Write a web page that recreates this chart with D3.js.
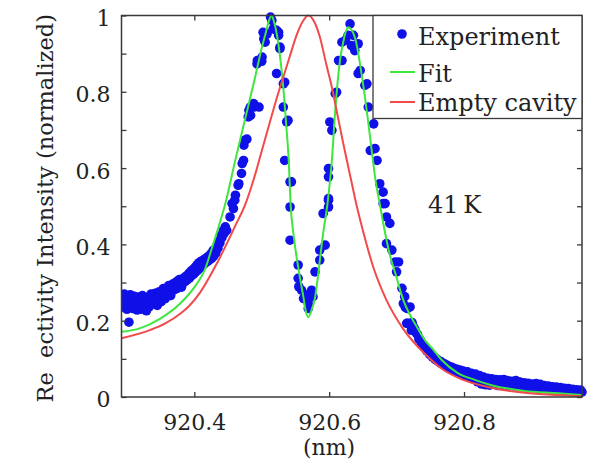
<!DOCTYPE html>
<html>
<head>
<meta charset="utf-8">
<script src="https://cdn.jsdelivr.net/npm/d3@7"></script>
<style>
  html, body { margin: 0; padding: 0; background: #fff; }
  svg { display: block; }
</style>
</head>
<body>
<svg id="chart" width="603" height="467"></svg>
<script>
// Reflectivity spectrum at 41 K: measured points, coupled-mode fit, bare cavity line
const waveTicks = [920.4, 920.6, 920.8];
const intensityTicks = [0, 0.2, 0.4, 0.6, 0.8, 1];
const intensityMinorTicks = [0.1, 0.3, 0.5, 0.7, 0.9];
const legendLabels = ["Experiment", "Fit", "Empty cavity"];
const temperatureLabel = "41\u2009K";

// measured reflectivity [wavelength nm, normalized intensity]
const experiment = [
  [920.293,0.258],[920.294,0.236],[920.296,0.270],[920.297,0.245],[920.299,0.262],[920.300,0.230],
  [920.302,0.252],[920.303,0.196],[920.305,0.268],[920.306,0.240],[920.308,0.256],[920.309,0.232],
  [920.311,0.264],[920.312,0.246],[920.314,0.252],[920.315,0.228],[920.317,0.262],[920.318,0.240],
  [920.320,0.256],[920.321,0.230],[920.323,0.266],[920.324,0.246],[920.326,0.236],[920.327,0.258],
  [920.329,0.226],[920.330,0.250],[920.332,0.262],[920.333,0.236],[920.335,0.254],[920.336,0.270],
  [920.338,0.244],[920.339,0.262],[920.341,0.250],[920.342,0.272],[920.344,0.256],[920.345,0.240],
  [920.347,0.266],[920.348,0.276],[920.350,0.260],[920.351,0.250],[920.353,0.272],[920.354,0.284],
  [920.356,0.266],[920.357,0.258],[920.359,0.282],[920.360,0.270],[920.362,0.292],[920.363,0.276],
  [920.365,0.266],[920.366,0.286],[920.368,0.296],[920.369,0.280],[920.371,0.290],[920.372,0.300],
  [920.374,0.284],[920.375,0.304],[920.377,0.292],[920.378,0.308],[920.380,0.296],[920.381,0.288],
  [920.383,0.310],[920.384,0.300],[920.386,0.314],[920.387,0.304],[920.389,0.318],[920.390,0.308],
  [920.392,0.324],[920.393,0.312],[920.395,0.330],[920.396,0.318],[920.398,0.334],[920.399,0.322],
  [920.401,0.340],[920.402,0.328],[920.404,0.346],[920.405,0.332],[920.407,0.352],[920.408,0.338],
  [920.410,0.356],[920.411,0.342],[920.413,0.358],[920.414,0.348],[920.416,0.362],[920.417,0.352],
  [920.419,0.366],[920.420,0.356],[920.422,0.370],[920.423,0.360],[920.425,0.376],[920.426,0.364],
  [920.428,0.384],[920.429,0.370],[920.431,0.388],[920.432,0.378],[920.434,0.398],[920.435,0.390],
  [920.437,0.410],[920.438,0.404],[920.440,0.424],[920.441,0.418],[920.443,0.436],[920.444,0.428],
  [920.446,0.446],[920.448,0.437],
  [920.453,0.472],[920.456,0.507],[920.458,0.494],[920.460,0.516],[920.461,0.529],[920.465,0.555],
  [920.466,0.559],[920.470,0.586],[920.471,0.612],[920.473,0.620],[920.4735,0.660],[920.475,0.673],
  [920.478,0.676],[920.480,0.734],[920.481,0.751],[920.483,0.760],[920.4835,0.738],[920.488,0.769],
  [920.4885,0.760],[920.493,0.873],[920.4935,0.882],[920.496,0.760],[920.500,0.880],[920.5005,0.891],
  [920.502,0.956],[920.503,0.939],[920.505,0.930],[920.508,0.952],[920.513,0.996],[920.515,0.987],
  [920.517,0.965],[920.522,0.961],[920.522,0.848],[920.525,0.956],[920.525,0.948],[920.527,0.913],
  [920.527,0.917],[920.532,0.821],[920.532,0.760],[920.534,0.825],[920.534,0.620],[920.537,0.721],
  [920.539,0.725],[920.542,0.564],[920.542,0.498],[920.544,0.564],[920.542,0.411],[920.554,0.346],
  [920.554,0.311],[920.555,0.289],[920.559,0.280],[920.562,0.258],[920.565,0.268],[920.569,0.245],
  [920.569,0.232],[920.574,0.280],[920.576,0.263],[920.579,0.328],[920.586,0.359],[920.586,0.385],
  [920.591,0.481],[920.594,0.398],[920.599,0.516],[920.599,0.498],[920.599,0.520],[920.599,0.577],
  [920.599,0.599],[920.601,0.721],[920.604,0.699],[920.609,0.795],[920.611,0.799],[920.614,0.882],
  [920.619,0.882],[920.619,0.930],[920.624,0.935],[920.628,0.948],[920.631,0.978],[920.633,0.921],
  [920.636,0.948],[920.638,0.908],[920.643,0.926],[920.643,0.848],[920.646,0.856],[920.653,0.817],
  [920.656,0.821],[920.658,0.760],[920.661,0.646],[920.666,0.716],[920.668,0.651],[920.671,0.620],
  [920.675,0.559],[920.680,0.537],[920.680,0.507],[920.683,0.507],[920.685,0.472],[920.685,0.402],
  [920.690,0.455],[920.693,0.385],[920.698,0.354],[920.700,0.328],[920.703,0.354],[920.708,0.285],
  [920.710,0.245],[920.712,0.263],[920.713,0.235],[920.715,0.193],[920.716,0.232],[920.717,0.193],
  [920.720,0.236],[920.722,0.175],
  [920.723,0.195],[920.725,0.184],[920.727,0.178],[920.729,0.168],[920.731,0.164],[920.733,0.152],
  [920.735,0.150],[920.737,0.141],[920.739,0.137],[920.741,0.130],[920.743,0.128],[920.745,0.120],
  [920.747,0.119],[920.749,0.112],[920.751,0.112],[920.753,0.105],[920.755,0.105],[920.757,0.099],
  [920.759,0.100],[920.761,0.094],[920.763,0.095],[920.765,0.089],[920.767,0.091],[920.769,0.085],
  [920.771,0.087],[920.773,0.081],[920.775,0.083],[920.777,0.077],[920.779,0.080],[920.781,0.073],
  [920.783,0.077],[920.785,0.070],[920.787,0.074],[920.789,0.067],[920.791,0.072],[920.793,0.064],
  [920.795,0.070],[920.797,0.061],[920.799,0.068],[920.802,0.057],[920.805,0.066],[920.808,0.052],
  [920.811,0.062],[920.814,0.047],[920.817,0.060],[920.820,0.040],[920.823,0.056],[920.826,0.034],
  [920.829,0.052],[920.832,0.032],[920.835,0.049],[920.838,0.031],[920.841,0.048],[920.844,0.033],
  [920.847,0.046],[920.850,0.030],[920.853,0.045],[920.856,0.031],[920.859,0.046],[920.862,0.029],
  [920.865,0.043],[920.868,0.031],[920.871,0.041],[920.874,0.029],[920.877,0.043],[920.880,0.028],
  [920.883,0.039],[920.886,0.027],[920.889,0.037],[920.892,0.026],[920.895,0.036],[920.898,0.025],
  [920.901,0.034],[920.904,0.025],[920.907,0.035],[920.910,0.024],[920.913,0.033],[920.916,0.023],
  [920.919,0.030],[920.922,0.022],[920.925,0.029],[920.928,0.021],[920.931,0.027],[920.934,0.020],
  [920.937,0.026],[920.940,0.019],[920.943,0.025],[920.946,0.018],[920.949,0.023],[920.952,0.016],
  [920.955,0.022],[920.958,0.014],[920.961,0.020],[920.964,0.013],[920.967,0.019],[920.970,0.012],
  [920.973,0.018],[920.975,0.013]
];

// fitted reflectivity (two polariton branches)
const fitCurve = [
  [920.292,0.171],[920.319,0.180],[920.349,0.205],[920.379,0.245],[920.401,0.290],[920.416,0.335],
  [920.426,0.390],[920.435,0.440],[920.446,0.507],[920.460,0.615],[920.475,0.726],[920.490,0.837],
  [920.500,0.915],[920.506,0.955],[920.511,0.988],[920.5145,1.000],[920.518,0.985],[920.523,0.945],
  [920.527,0.895],[920.531,0.830],[920.536,0.720],[920.540,0.620],[920.543,0.500],[920.547,0.428],
  [920.554,0.341],[920.562,0.260],[920.565,0.228],[920.569,0.209],[920.5735,0.226],[920.579,0.260],
  [920.585,0.341],[920.591,0.428],[920.5975,0.507],[920.604,0.620],[920.609,0.751],[920.616,0.882],
  [920.622,0.940],[920.628,0.969],[920.634,0.960],[920.640,0.930],[920.646,0.870],[920.652,0.800],
  [920.658,0.720],[920.6635,0.640],[920.669,0.565],[920.675,0.507],[920.683,0.430],[920.690,0.372],
  [920.698,0.325],[920.710,0.254],[920.720,0.215],[920.730,0.184],[920.742,0.149],[920.7525,0.128],
  [920.767,0.097],[920.7915,0.062],[920.816,0.045],[920.841,0.031],[920.890,0.016],[920.940,0.010],
  [920.975,0.005]
];

// bare cavity mode
const emptyCavity = [
  [920.292,0.154],[920.335,0.176],[920.357,0.193],[920.379,0.218],[920.393,0.240],[920.409,0.275],
  [920.434,0.352],[920.461,0.450],[920.4756,0.505],[920.488,0.570],[920.500,0.645],[920.512,0.720],
  [920.522,0.782],[920.531,0.833],[920.542,0.895],[920.552,0.950],[920.561,0.985],[920.569,1.000],
  [920.5775,0.985],[920.586,0.945],[920.596,0.870],[920.604,0.812],[920.611,0.751],[920.621,0.664],
  [920.633,0.565],[920.641,0.500],[920.651,0.430],[920.6655,0.340],[920.685,0.254],[920.710,0.178],
  [920.745,0.108],[920.767,0.074],[920.7915,0.050],[920.841,0.024],[920.890,0.011],[920.940,0.005],
  [920.975,0.002]
];

const colors = { exp: "#1010e8", fit: "#3ee63e", cavity: "#f24a4a", frame: "#3a3a3a", text: "#222" };
const serif = "'DejaVu Serif', 'Liberation Serif', serif";

const svg = d3.select("#chart");
const plot = { left: 121.5, right: 582, top: 15.5, bottom: 397 };

const x = d3.scaleLinear().domain([920.292, 920.975]).range([plot.left, plot.right]);
const y = d3.scaleLinear().domain([0, 1]).range([plot.bottom, plot.top]);

// data layers
svg.append("clipPath").attr("id", "plotclip")
  .append("rect").attr("x", plot.left).attr("y", plot.top - 6)
  .attr("width", plot.right - plot.left + 6).attr("height", plot.bottom - plot.top + 6);

const layer = svg.append("g").attr("clip-path", "url(#plotclip)");

layer.selectAll("circle.exp").data(experiment).join("circle")
  .attr("class", "exp")
  .attr("cx", d => x(d[0])).attr("cy", d => y(d[1]))
  .attr("r", 4.8).attr("fill", colors.exp);

const line = d3.line().x(d => x(d[0])).y(d => y(d[1])).curve(d3.curveMonotoneX);

layer.append("path").datum(fitCurve).attr("d", line)
  .attr("fill", "none").attr("stroke", colors.fit).attr("stroke-width", 2);
layer.append("path").datum(emptyCavity).attr("d", line)
  .attr("fill", "none").attr("stroke", colors.cavity).attr("stroke-width", 2);

// axes with inward ticks
const tickLen = 5;
const fmtY = d => (d === 0 || d === 1) ? String(d) : d.toFixed(1);

const gBottom = svg.append("g").attr("transform", `translate(0,${plot.bottom})`)
  .call(d3.axisBottom(x).tickValues(waveTicks).tickFormat(d3.format(".1f"))
    .tickSizeInner(-tickLen).tickSizeOuter(0));
const gTop = svg.append("g").attr("transform", `translate(0,${plot.top})`)
  .call(d3.axisTop(x).tickValues(waveTicks).tickFormat("")
    .tickSizeInner(-tickLen).tickSizeOuter(0));
const gLeft = svg.append("g").attr("transform", `translate(${plot.left},0)`)
  .call(d3.axisLeft(y).tickValues(intensityTicks).tickFormat(fmtY)
    .tickSizeInner(-tickLen).tickSizeOuter(0));
const gLeftMinor = svg.append("g").attr("transform", `translate(${plot.left},0)`)
  .call(d3.axisLeft(y).tickValues(intensityMinorTicks).tickFormat("")
    .tickSizeInner(-tickLen).tickSizeOuter(0));
const gRight = svg.append("g").attr("transform", `translate(${plot.right},0)`)
  .call(d3.axisRight(y).tickValues(intensityTicks.concat(intensityMinorTicks)).tickFormat("")
    .tickSizeInner(-tickLen).tickSizeOuter(0));

[gBottom, gTop, gLeft, gLeftMinor, gRight].forEach(g => {
  g.select(".domain").remove();
  g.selectAll(".tick line").attr("stroke", colors.frame).attr("stroke-width", 1.3);
  g.attr("font-family", serif).attr("font-size", 22);
});

gBottom.selectAll(".tick text")
  .attr("y", 33).attr("dy", null)
  .attr("fill", colors.text)
  .style("font-family", serif).style("font-size", "22px");
gLeft.selectAll(".tick text")
  .attr("x", -11).attr("dy", "0.45em")
  .attr("fill", colors.text)
  .style("font-family", serif).style("font-size", "22px");

// frame
svg.append("rect")
  .attr("x", plot.left).attr("y", plot.top)
  .attr("width", plot.right - plot.left).attr("height", plot.bottom - plot.top)
  .attr("fill", "none").attr("stroke", colors.frame).attr("stroke-width", 1.5);

function label(sel, size) {
  return sel.attr("fill", colors.text)
    .attr("font-family", serif).style("font-family", serif)
    .style("font-size", size + "px");
}

// axis titles
label(svg.append("text"), 22.5)
  .attr("transform", `translate(53,${(plot.top + plot.bottom) / 2 + 2}) rotate(-90)`)
  .attr("text-anchor", "middle")
  .text("Re\u00A0\u00A0ectivity Intensity (normalized)");

label(svg.append("text"), 22)
  .attr("x", 329).attr("y", 455)
  .attr("text-anchor", "middle")
  .text("(nm)");

// temperature annotation
label(svg.append("text"), 24)
  .attr("x", 428).attr("y", 213)
  .text(temperatureLabel);

// legend
const lg = svg.append("g");
lg.append("rect")
  .attr("x", 373).attr("y", plot.top)
  .attr("width", plot.right - 373).attr("height", 103)
  .attr("fill", "#fff").attr("stroke", colors.frame).attr("stroke-width", 1.3);

const rows = [
  { label: legendLabels[0], type: "dot", color: colors.exp, cy: 34, base: 45 },
  { label: legendLabels[1], type: "line", color: colors.fit, cy: 72, base: 81.5 },
  { label: legendLabels[2], type: "line", color: colors.cavity, cy: 102, base: 111 }
];
rows.forEach(r => {
  if (r.type === "dot") {
    lg.append("circle").attr("cx", 402).attr("cy", r.cy).attr("r", 4.8).attr("fill", r.color);
  } else {
    lg.append("line").attr("x1", 390).attr("x2", 415).attr("y1", r.cy).attr("y2", r.cy)
      .attr("stroke", r.color).attr("stroke-width", 2);
  }
  label(lg.append("text"), 24).attr("x", 418).attr("y", r.base).text(r.label);
});
</script>
</body>
</html>
